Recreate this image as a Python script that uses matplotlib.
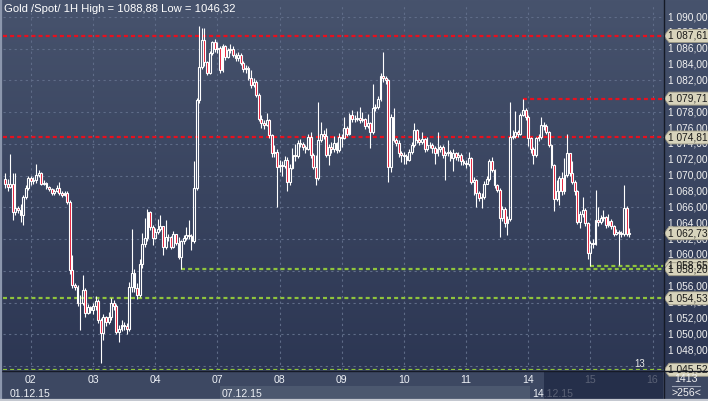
import numpy as np
import matplotlib
matplotlib.use("Agg")
import matplotlib.pyplot as plt
from matplotlib.colors import LinearSegmentedColormap
from matplotlib.patches import Rectangle, Polygon
from matplotlib.transforms import blended_transform_factory

W, H = 708, 401
plt.rcParams['font.family'] = ['Liberation Sans', 'DejaVu Sans']

# hourly gold spot candles, 01.12.15 14:00 .. 15.12.15
first_open = 1069.6
closes = [
    # 01.12
    1069.0, 1068.6, 1069.0, 1065.4, 1065.9, 1065.7, 1065.0, 1067.3, 1068.4, 1069.7,
    # 02.12
    1069.3, 1069.4, 1070.1, 1070.3, 1069.0, 1069.1, 1068.6, 1068.3, 1067.8, 1068.0, 1068.4, 1067.8,
    1067.6, 1067.8, 1066.7, 1058.1, 1056.2, 1056.0, 1053.9, 1054.0, 1055.6, 1052.7, 1053.4, 1053.0,
    # 03.12
    1053.5, 1054.2, 1051.8, 1050.1, 1052.2, 1051.5, 1052.2, 1053.9, 1053.5, 1050.3, 1050.7, 1051.2,
    1051.0, 1050.6, 1056.0, 1057.7, 1055.8, 1055.0, 1058.9, 1061.4, 1062.1, 1065.4, 1063.5, 1062.1,
    # 04.12
    1062.9, 1063.3, 1063.6, 1061.0, 1062.3, 1062.2, 1061.0, 1062.6, 1061.5, 1059.7, 1061.7, 1062.1,
    1062.5, 1062.4, 1061.7, 1068.4, 1079.5, 1083.7, 1087.1, 1084.3, 1083.0, 1085.4, 1086.8, 1086.0,
    # 07.12
    1086.1, 1083.3, 1086.3, 1085.0, 1085.8, 1086.0, 1085.2, 1084.8, 1085.2, 1084.2, 1083.5, 1083.6,
    1082.3, 1081.4, 1081.8, 1080.2, 1077.2, 1076.6, 1076.4, 1077.0, 1075.1, 1072.8, 1073.0, 1071.1,
    # 08.12
    1071.4, 1071.2, 1072.0, 1069.2, 1071.0, 1072.6, 1072.5, 1074.1, 1074.0, 1073.6, 1073.4, 1074.9,
    1072.6, 1071.1, 1069.7, 1074.5, 1075.3, 1075.0, 1072.6, 1073.6, 1073.3, 1074.1, 1073.2, 1074.9,
    # 09.12
    1074.8, 1076.0, 1075.3, 1077.6, 1077.2, 1077.1, 1077.3, 1077.0, 1077.1, 1076.2, 1076.6, 1075.5,
    1078.5, 1078.7, 1079.7, 1082.5, 1082.3, 1082.0, 1071.1, 1077.4, 1074.5, 1074.1, 1072.8, 1072.6,
    # 10.12
    1072.5, 1072.0, 1073.0, 1073.9, 1075.7, 1074.5, 1074.3, 1074.6, 1073.4, 1073.8, 1073.9, 1073.5,
    1072.8, 1073.4, 1073.6, 1072.6, 1072.8, 1073.0, 1072.2, 1072.8, 1072.4, 1072.6, 1071.8, 1071.6,
    # 11.12
    1071.5, 1072.2, 1069.2, 1069.4, 1067.8, 1067.2, 1067.3, 1069.0, 1069.6, 1071.8, 1070.7, 1068.8,
    1068.2, 1064.6, 1065.8, 1064.0, 1064.5, 1074.9, 1075.0, 1075.5, 1075.3, 1077.6, 1078.3, 1077.4,
    # 14.12
    1074.7, 1073.4, 1072.6, 1074.7, 1074.9, 1076.4, 1076.3, 1075.5, 1073.9, 1071.3, 1067.1, 1068.0,
    1069.7, 1068.0, 1070.1, 1072.8, 1070.3, 1069.2, 1068.0, 1064.2, 1065.2, 1065.7, 1064.0, 1060.2,
    # 15.12
    1061.5, 1061.4, 1064.4, 1064.2, 1064.6, 1064.8, 1063.8, 1064.3, 1063.6, 1062.7, 1062.9, 1062.8,
    1062.7, 1065.9, 1062.7, 1062.73,
]
highs = [
    1070.3, 1069.6, 1072.7, 1070.3, 1070.3, 1066.2, 1066.4, 1067.6, 1068.8, 1070.0,
    1070.0, 1069.8, 1071.5, 1070.7, 1070.4, 1069.5, 1069.2, 1068.7, 1068.4, 1068.3, 1068.8, 1069.2,
    1068.0, 1068.1, 1068.0, 1066.9, 1060.0, 1056.5, 1056.2, 1055.0, 1057.5, 1055.8, 1053.8, 1053.6,
    1054.0, 1054.8, 1054.5, 1052.0, 1052.6, 1052.3, 1052.8, 1054.6, 1054.3, 1053.8, 1051.2, 1051.8,
    1051.6, 1051.4, 1056.6, 1063.3, 1058.2, 1056.5, 1059.5, 1062.8, 1064.6, 1065.8, 1065.5, 1063.8,
    1063.4, 1064.5, 1065.0, 1063.7, 1064.4, 1062.7, 1062.4, 1063.0, 1062.7, 1062.3, 1061.9, 1062.5,
    1063.5, 1064.4, 1062.6, 1071.8, 1079.8, 1088.88, 1088.6, 1088.6, 1084.5, 1085.7, 1087.0, 1087.2,
    1086.9, 1086.3, 1086.6, 1086.5, 1086.1, 1086.6, 1086.3, 1085.5, 1085.6, 1085.4, 1084.4, 1084.0,
    1083.8, 1083.3, 1082.3, 1082.0, 1080.4, 1077.6, 1077.0, 1077.9, 1077.2, 1075.3, 1073.8, 1073.4,
    1072.0, 1071.8, 1072.5, 1072.4, 1071.5, 1073.5, 1074.0, 1074.5, 1074.6, 1074.3, 1073.9, 1075.2,
    1075.5, 1072.9, 1072.6, 1079.3, 1076.8, 1075.8, 1076.0, 1074.0, 1074.2, 1075.0, 1074.3, 1075.4,
    1075.2, 1077.4, 1076.3, 1077.9, 1078.3, 1077.6, 1078.2, 1078.6, 1078.0, 1077.3, 1077.8, 1076.8,
    1081.6, 1079.0, 1080.0, 1083.0, 1085.6, 1082.6, 1082.2, 1077.8, 1078.5, 1074.8, 1074.5, 1073.1,
    1073.0, 1072.7, 1073.3, 1074.2, 1076.6, 1075.9, 1074.8, 1075.5, 1074.8, 1074.9, 1074.3, 1074.1,
    1073.7, 1075.5, 1073.9, 1073.8, 1073.1, 1074.5, 1073.2, 1073.3, 1073.0, 1073.0, 1072.8, 1072.1,
    1072.0, 1073.0, 1072.4, 1069.8, 1069.6, 1068.0, 1067.8, 1069.3, 1070.0, 1072.1, 1072.4, 1070.8,
    1068.9, 1068.4, 1066.2, 1066.0, 1064.9, 1079.3, 1075.8, 1078.1, 1075.8, 1077.9, 1079.71, 1078.5,
    1077.6, 1074.9, 1073.6, 1074.9, 1075.2, 1077.4, 1076.7, 1076.5, 1075.6, 1074.0, 1071.5, 1069.5,
    1070.0, 1070.5, 1072.2, 1075.3, 1072.9, 1071.9, 1069.4, 1068.2, 1065.5, 1067.3, 1065.9, 1064.2,
    1061.8, 1062.0, 1068.2, 1066.0, 1065.0, 1065.7, 1064.9, 1065.2, 1064.5, 1063.8, 1063.3, 1063.2,
    1063.0, 1068.8, 1066.2, 1063.4,
]
lows = [
    1068.4, 1068.0, 1068.4, 1064.4, 1065.0, 1065.3, 1064.2, 1063.8, 1067.1, 1068.2,
    1068.8, 1069.0, 1069.1, 1069.8, 1068.8, 1068.8, 1068.3, 1068.0, 1067.5, 1067.6, 1067.9, 1067.5,
    1067.3, 1067.4, 1066.4, 1057.6, 1055.8, 1055.6, 1053.5, 1050.5, 1053.7, 1052.2, 1052.5, 1052.7,
    1052.5, 1053.0, 1051.4, 1046.32, 1049.3, 1051.0, 1051.3, 1051.8, 1053.0, 1050.0, 1049.0, 1050.4,
    1050.5, 1050.0, 1050.4, 1055.3, 1055.3, 1054.5, 1054.7, 1058.4, 1061.0, 1061.8, 1063.2, 1061.3,
    1062.0, 1062.7, 1063.0, 1060.0, 1060.8, 1061.8, 1060.7, 1060.9, 1061.2, 1059.5, 1058.2, 1061.4,
    1061.9, 1062.0, 1060.6, 1061.5, 1068.2, 1079.2, 1083.5, 1083.8, 1082.7, 1082.8, 1085.2, 1085.6,
    1085.5, 1083.0, 1083.1, 1084.6, 1084.8, 1085.5, 1084.9, 1084.4, 1084.5, 1083.9, 1083.1, 1083.0,
    1082.0, 1081.0, 1081.2, 1079.9, 1076.9, 1076.0, 1075.9, 1076.2, 1074.8, 1072.4, 1072.4, 1066.1,
    1070.5, 1070.0, 1071.0, 1068.0, 1068.8, 1070.8, 1071.9, 1072.2, 1073.6, 1073.2, 1072.9, 1073.2,
    1072.2, 1070.8, 1068.8, 1069.5, 1074.2, 1074.6, 1072.3, 1071.3, 1072.9, 1073.0, 1072.8, 1073.0,
    1073.6, 1074.6, 1075.0, 1075.1, 1076.8, 1076.7, 1076.9, 1076.6, 1076.7, 1075.9, 1076.0, 1073.5,
    1075.3, 1078.2, 1078.4, 1079.4, 1081.8, 1081.6, 1069.2, 1070.5, 1074.2, 1073.7, 1072.4, 1071.7,
    1071.5, 1071.5, 1071.8, 1072.7, 1073.6, 1074.1, 1073.9, 1074.0, 1073.0, 1073.1, 1073.5, 1072.9,
    1071.5, 1072.5, 1073.0, 1072.2, 1069.4, 1072.5, 1071.9, 1070.6, 1072.0, 1071.9, 1071.4, 1071.3,
    1071.0, 1071.2, 1068.9, 1067.5, 1066.1, 1066.8, 1065.9, 1067.0, 1068.9, 1069.3, 1070.4, 1068.5,
    1067.9, 1062.3, 1064.3, 1063.5, 1062.5, 1064.3, 1074.6, 1074.7, 1074.9, 1075.1, 1077.5, 1077.0,
    1073.7, 1072.9, 1071.5, 1072.4, 1074.4, 1074.6, 1075.8, 1075.3, 1073.6, 1070.9, 1065.5, 1066.8,
    1066.3, 1067.6, 1067.7, 1069.8, 1070.0, 1068.9, 1067.5, 1063.9, 1063.4, 1064.8, 1063.6, 1059.5,
    1058.65, 1060.9, 1061.2, 1063.7, 1063.9, 1064.3, 1063.4, 1063.5, 1063.3, 1062.4, 1062.5, 1058.7,
    1062.3, 1062.4, 1062.4, 1062.3,
]

day_labels = ["02", "03", "04", "07", "08", "09", "10", "11", "14", "15", "16"]
day_starts = [10, 34, 58, 82, 106, 130, 154, 178, 202, 226, 250]
week_labels = ["01.12.15", "07.12.15", "14.12.15"]
week_starts = [0, 82, 202]

# horizontal level lines: price, first bar, colour
level_prices = [1087.61, 1079.71, 1074.81, 1058.65, 1058.20, 1054.53, 1045.52]
level_starts = [None, 200, None, 226, 68, None, None]
level_colors = ["#e8101e", "#e8101e", "#e8101e", "#8fc43c", "#8fc43c", "#8fc43c", "#8fc43c"]
last_price = 1062.73

title = "Gold /Spot/ 1H High = 1088,88 Low = 1046,32"


def fmt(v):
    return f"{v:,.2f}".replace(",", " ").replace(".", ",")


def frac(x0, y0, x1, y1):
    return [x0 / W, 1 - y1 / H, (x1 - x0) / W, (y1 - y0) / H]


fig = plt.figure(figsize=(W / 100, H / 100), dpi=100)
fig.patch.set_facecolor("#3a4560")

# background gradient + bottom strip
bg = fig.add_axes([0, 0, 1, 1])
grad = np.linspace(0, 1, 256).reshape(-1, 1)
cmap = LinearSegmentedColormap.from_list("bg", ["#47536d", "#2a3451"])
bg.imshow(grad, cmap=cmap, aspect="auto", extent=(0, W, H, 0))
bg.set_xlim(0, W)
bg.set_ylim(H, 0)
bg.axis("off")
bg.add_patch(Rectangle((0, 370), W, 31, color="#3d4862", lw=0))
bg.add_patch(Rectangle((220, 385.5), 310, 14, color="#4c586f", lw=0))

# main chart
ax = fig.add_axes(frac(3, 4, 663, 370))
ax.set_facecolor("none")
ax.set_xlim(-0.77, 254.05)
ax.set_ylim(1045.49, 1091.64)
ax.set_xticks(day_starts)
ax.set_yticks(np.arange(1046, 1091, 4))
ax.grid(True, color="#5f6c88", lw=0.8, ls=(0, (2, 3)))
ax.tick_params(length=0, labelbottom=False, labelleft=False)
for s in ax.spines.values():
    s.set_visible(False)

xs = np.arange(len(closes))
c = np.array(closes)
o = np.r_[first_open, c[:-1]]
hi = np.array(highs)
lo = np.array(lows)
top = np.maximum(o, c)
bot = np.minimum(o, c)
ax.vlines(xs, top, hi, color="white", lw=0.8, zorder=4)
ax.vlines(xs, lo, bot, color="white", lw=0.8, zorder=4)
fills = ["#e3132f" if cc < oo else "none" for oo, cc in zip(o, c)]
ax.bar(xs, np.maximum(top - bot, 0.06), bottom=bot, width=0.72, color=fills,
       edgecolor="white", linewidth=0.8, zorder=5)

x_end = ax.get_xlim()[1]
for p, st, col in zip(level_prices, level_starts, level_colors):
    x0 = ax.get_xlim()[0] if st is None else st
    ax.plot([x0, x_end], [p, p], color=col, lw=1.6, ls=(0, (1.8, 1.4)), zorder=3,
            solid_capstyle="butt", dash_capstyle="butt")

ax.text(0.002, 1.0 - 5 / 366, title, transform=ax.transAxes, color="white",
        fontsize=8.1, va="center", ha="left")
ax.text(245, 1046.3, "13", color="#e8e8e8", fontsize=7, ha="center", va="center", zorder=6)

# day and week labels below the chart
tr = blended_transform_factory(ax.transData, ax.transAxes)
for lab, pos in zip(day_labels, day_starts):
    ax.text(pos, -10 / 366, lab, transform=tr, color="#eef1f6", fontsize=7.6,
            ha="center", va="center", clip_on=False)
for lab, pos in zip(week_labels, week_starts):
    ax.text(pos + 1.6, -24 / 366, lab, transform=tr, color="#eef1f6", fontsize=7.6,
            ha="left", va="center", clip_on=False)

# right price axis
rax = fig.add_axes(frac(663, 4, 708, 370))
rax.set_facecolor("none")
rax.set_xlim(0, 45)
rax.set_ylim(ax.get_ylim())
rax.axis("off")
for v in np.arange(1048, 1091, 2):
    rax.text(4.5, v, fmt(v), color="#f2f2f2", fontsize=7.3, va="center", ha="left", clip_on=False)

unit = (ax.get_ylim()[1] - ax.get_ylim()[0]) / 366
for p in level_prices + [last_price]:
    hh = 6.5 * unit
    rax.add_patch(Polygon([(1, p), (6, p + hh), (46, p + hh), (46, p - hh), (6, p - hh)],
                          closed=True, facecolor="#d8d4bc", edgecolor="#9c9884", lw=0.6,
                          clip_on=False, zorder=5))
    rax.text(5.5, p, fmt(p), color="#1a1a1a", fontsize=7.3, va="center", ha="left",
             clip_on=False, zorder=6)

# overlay: separators, future shading, corner box
ov = fig.add_axes([0, 0, 1, 1])
ov.set_xlim(0, W)
ov.set_ylim(H, 0)
ov.axis("off")
ov.patch.set_alpha(0)
ov.add_patch(Rectangle((544, 370.5), 119, 29, color="#1c2540", alpha=0.7, lw=0))
ov.plot([0, W], [370.5, 370.5], color="#151a26", lw=1)
ov.plot([663.5, 663.5], [0, H], color="#151a26", lw=1)
ov.plot([1, 1], [0, H], color="#8c97ad", lw=1.6)
ov.plot([0, W], [400, 400], color="#c4c8d0", lw=1.6)
ov.text(686, 379, "1413", color="#f2f2f2", fontsize=7.6, ha="center", va="center")
ov.plot([672, 700], [386, 386], color="#9aa3b5", lw=0.8)
ov.text(686, 393, ">256<", color="#f2f2f2", fontsize=7.6, ha="center", va="center")

fig.savefig("out.png", dpi=100, facecolor=fig.get_facecolor())
